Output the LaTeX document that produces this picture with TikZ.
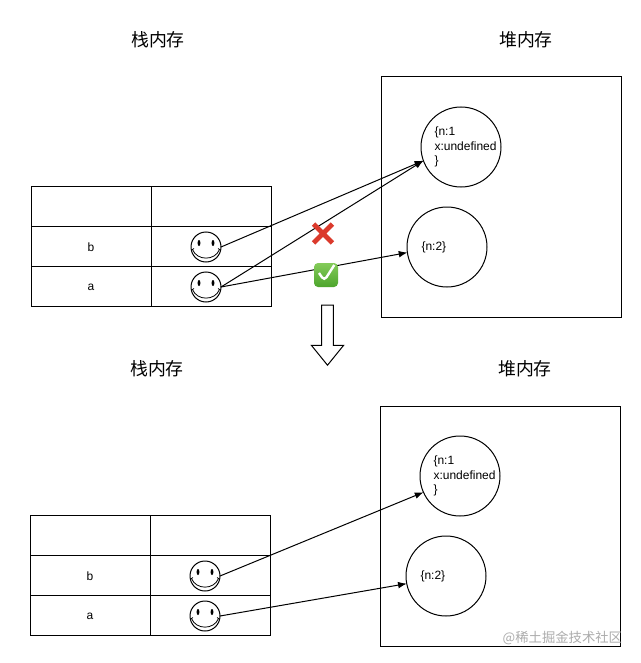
\documentclass[tikz,border=0pt]{standalone}
\usepackage{fontspec}
\setmainfont{Liberation Sans}
\newfontfamily\cjkfont{Noto Sans CJK SC}
\usetikzlibrary{arrows.meta, shapes}
\definecolor{crossred}{HTML}{DB3A2C}
\definecolor{checktop}{HTML}{84CB5A}
\definecolor{checkbottom}{HTML}{4DA52C}

\begin{document}
\begin{tikzpicture}[x=0.75pt, y=-0.75pt, >={Latex[length=6.5pt,width=5pt]}, line width=0.75pt,
				font=\fontsize{9}{10.8}\selectfont,
				cell/.style={draw, rectangle, minimum width=90pt, minimum height=30pt, inner sep=0pt, outer sep=0pt},
				heapbox/.style={draw, rectangle, minimum size=180pt, inner sep=0pt, outer sep=0pt},
				heapobj/.style={draw, circle, minimum size=60pt, inner sep=0pt, outer sep=0pt},
				objtext/.style={anchor=west, align=left, inner sep=0pt},
				celltext/.style={inner sep=0pt},
				title/.style={font=\cjkfont\fontsize{13.4}{15}\selectfont, inner sep=0pt},
				smiley/.style={draw, circle, minimum size=22.5pt, inner sep=0pt, outer sep=0pt,
					path picture={
						\begin{scope}[shift={(path picture bounding box.center)}, line width=0.6pt]
							\fill (-7,-4) ellipse (1.4 and 3);
							\fill (7,-4) ellipse (1.4 and 3);
							\draw (-13.5,2.5) .. controls (-9,14) and (9,14) .. (13.5,2.5);
							\draw (-15,3.5) -- (-12,1.5) (15,3.5) -- (12,1.5);
						\end{scope}}}]
				%Bildbereich
				\useasboundingbox (0,0) rectangle (641,663);
				\fill[white] (0,0) rectangle (641,663);
				% oben
				\node[title] (stacktitle) at (158,40) {栈内存};
				\node[title] (heaptitle) at (526,40) {堆内存};
				\node[cell] (head1) at (91,206) {};
				\node[cell] (head2) at (211,206) {};
				\node[cell] (bname) at (91,246) {};
				\node[cell] (bval) at (211,246) {};
				\node[cell] (aname) at (91,286) {};
				\node[cell] (aval) at (211,286) {};
				\node[celltext] (blabel) at (91,247) {b};
				\node[celltext] (alabel) at (91,287) {a};
				\node[smiley] (bface) at (206,247) {};
				\node[smiley] (aface) at (206,287) {};
				\node[heapbox] (heap) at (501,197) {};
				\node[heapobj] (obja) at (461,147) {};
				\node[heapobj] (objb) at (447,247) {};
				\node[objtext] (objatext) at (434,147) {\{n:1\\x:undefined\\\}};
				\node[objtext] (objbtext) at (421,247) {\{n:2\}};
				% Pfeile oben
				\draw[->] (bface.east) -- (obja.200);
				\draw[->] (aface.east) -- (obja.200);
				\draw[->] (aface.east) -- (objb.188);
				% Markierungen
				\node[cross out, draw=crossred, line width=3.6pt, minimum size=10.5pt, inner sep=0pt] (wrong) at (323,233.5) {};
				\node[rectangle, rounded corners=3pt, top color=checktop, bottom color=checkbottom, minimum size=18pt, inner sep=0pt,
					path picture={\draw[white, line width=1.8pt] ([shift={(-7,-2)}]path picture bounding box.center) -- ++(5.3,7.7) -- ++(10,-15.7);}] (right) at (326,275) {};
				% Pfeil nach unten
				\node[draw, fill=white, single arrow, rotate=-90, anchor=tip, inner sep=4.1pt, minimum height=45pt,
					minimum width=23.25pt, single arrow head extend=7.5pt, single arrow tip angle=78] (next) at (327.5,366) {};
				% unten
				\node[title] (stacktitle2) at (157,369) {栈内存};
				\node[title] (heaptitle2) at (525,369) {堆内存};
				\node[cell] (headc1) at (90,535) {};
				\node[cell] (headc2) at (210,535) {};
				\node[cell] (bname2) at (90,575) {};
				\node[cell] (bval2) at (210,575) {};
				\node[cell] (aname2) at (90,615) {};
				\node[cell] (aval2) at (210,615) {};
				\node[celltext] (blabel2) at (90,576) {b};
				\node[celltext] (alabel2) at (90,616) {a};
				\node[smiley] (bface2) at (205,576) {};
				\node[smiley] (aface2) at (205,616) {};
				\node[heapbox] (heap2) at (500,526) {};
				\node[heapobj] (objc) at (460,476) {};
				\node[heapobj] (objd) at (446,576) {};
				\node[objtext] (objctext) at (433,476) {\{n:1\\x:undefined\\\}};
				\node[objtext] (objdtext) at (420,576) {\{n:2\}};
				% Pfeile unten
				\draw[->] (bface2.east) -- (objc.204);
				\draw[->] (aface2.east) -- (objd.191);
				% Wasserzeichen
				\node[anchor=east, inner sep=0pt, text=gray!65, font=\cjkfont\fontsize{10}{12}\selectfont] (mark) at (622.5,638) {@稀土掘金技术社区};
			\end{tikzpicture}
\end{document}
